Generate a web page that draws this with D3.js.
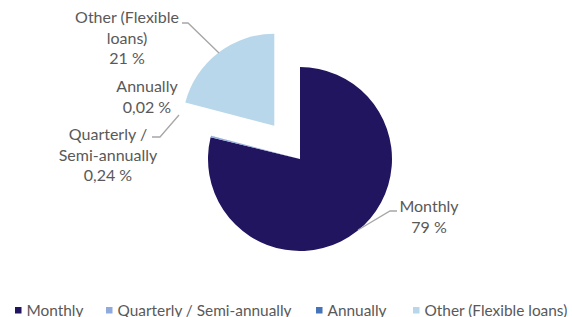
<!DOCTYPE html>
<html>
<head>
<meta charset="utf-8">
<script src="https://cdn.jsdelivr.net/npm/d3@7"></script>
<style>
  body { margin: 0; background: #fff; }
  text { font-family: Lato, "Open Sans", sans-serif; fill: #595959; }
</style>
</head>
<body>
<svg id="canvas" width="572" height="317"></svg>
<script>
"use strict";

const categories = ["Monthly", "Quarterly / Semi-annually", "Annually", "Other (Flexible loans)"];
const values = [79, 0.24, 0.02, 21];
const valueLabels = ["79 %", "0,24 %", "0,02 %", "21 %"];
const labelLines = [["Monthly"], ["Quarterly /", "Semi-annually"], ["Annually"], ["Other (Flexible", "loans)"]];
const colors = ["#221560", "#8faadc", "#4674b9", "#b8d7ea"];

const svg = d3.select('#canvas');
const cx = 300, cy = 159, radius = 92;
const explode = [0, 0, 0, 42];

const pie = d3.pie().sort(null).value(d => d);
const arc = d3.arc().innerRadius(0).outerRadius(radius);
const arcs = pie(values);

const offset = (a, i) => {
    const mid = (a.startAngle + a.endAngle) / 2;
    return [Math.sin(mid) * explode[i], -Math.cos(mid) * explode[i]];
};

const g = svg.append('g').attr('transform', `translate(${cx},${cy})`);

g.selectAll('path')
    .data(arcs)
    .enter()
    .append('path')
    .attr('d', arc)
    .attr('fill', (d, i) => colors[i])
    .attr('transform', (d, i) => {
        const [dx, dy] = offset(d, i);
        return `translate(${dx},${dy})`;
    });

// label centre x and first baseline
const labelPos = [[429, 212], [108, 140], [147, 92], [127, 23]];
const leaders = [
    [[397, 211], [390, 211], [358, 230]],
    [[152, 137], [160, 137], [179, 115]],
    null,
    [[182, 23], [188, 23], [219, 53]]
];

const line = d3.line();
svg.selectAll('path.leader')
    .data(leaders.filter(d => d))
    .enter()
    .append('path')
    .attr('class', 'leader')
    .attr('d', d => line(d))
    .attr('fill', 'none')
    .attr('stroke', '#a6a6a6')
    .attr('stroke-width', 1.3);

categories.forEach((c, i) => {
    const lines = labelLines[i].concat([valueLabels[i]]);
    const t = svg.append('text')
        .attr('text-anchor', 'middle')
        .attr('font-size', 16);
    lines.forEach((s, j) => {
        t.append('tspan')
            .attr('x', labelPos[i][0])
            .attr('y', labelPos[i][1] + j * 20.5)
            .text(s);
    });
});

// legend
const legendX = [15, 106, 316, 413];
const legend = svg.selectAll('g.legend')
    .data(categories)
    .enter()
    .append('g')
    .attr('class', 'legend')
    .attr('transform', (d, i) => `translate(${legendX[i]},307)`);

legend.append('rect')
    .attr('width', 6.5)
    .attr('height', 6.5)
    .attr('fill', (d, i) => colors[i]);

legend.append('text')
    .attr('x', 11.5)
    .attr('y', 8.5)
    .attr('font-size', 15.4)
    .text(d => d);
</script>
</body>
</html>
